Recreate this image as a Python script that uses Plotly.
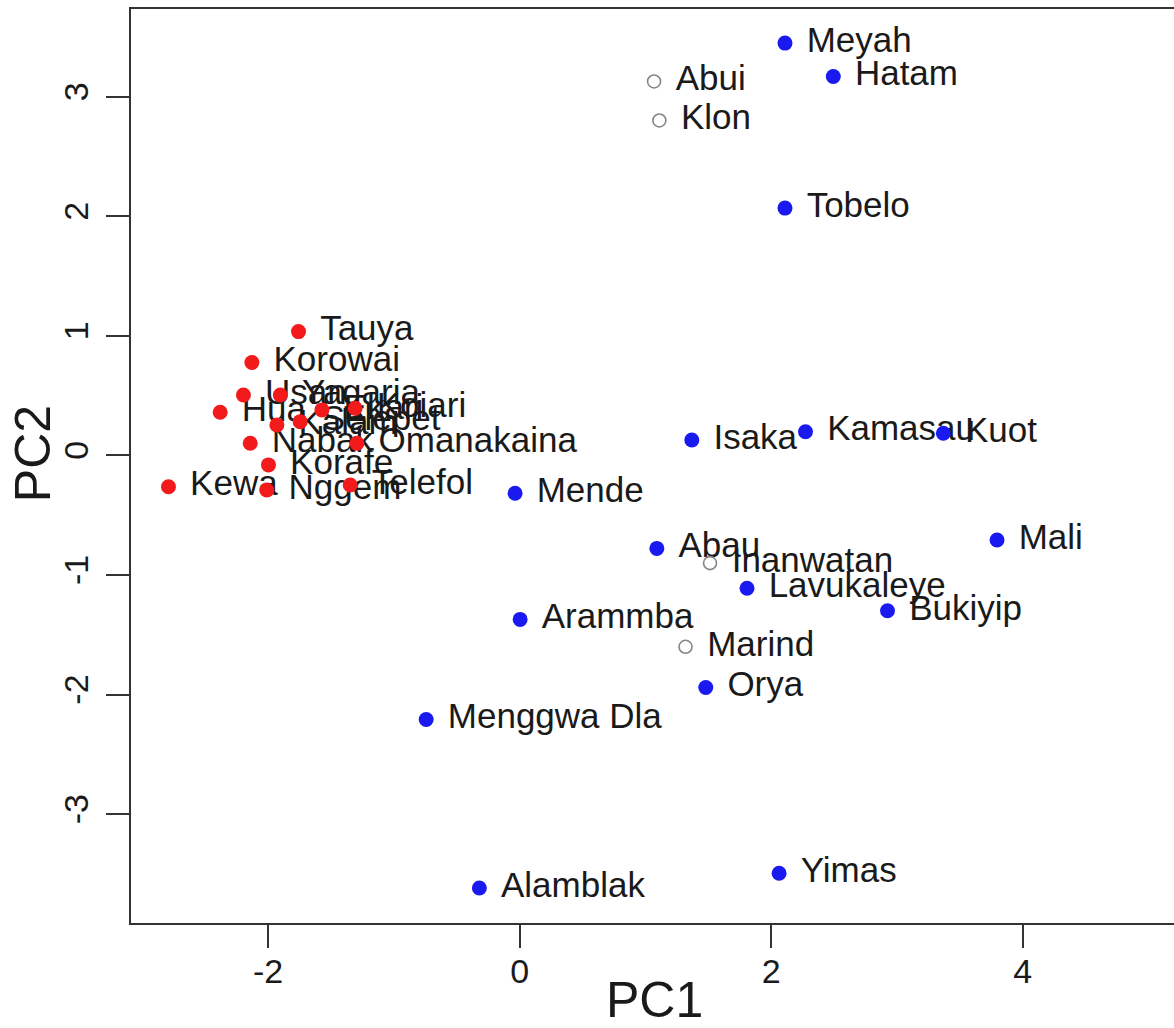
import plotly.graph_objects as go

# Blue (filled) languages
blue_names = ["Meyah", "Hatam", "Tobelo", "Isaka", "Kamasau", "Kuot", "Mende", "Abau",
              "Mali", "Lavukaleye", "Bukiyip", "Arammba", "Orya", "Menggwa Dla", "Alamblak", "Yimas"]
blue_x = [2.110, 2.494, 2.110, 1.369, 2.273, 3.369, -0.036, 1.091,
          3.796, 1.808, 2.925, 0.004, 1.480, -0.743, -0.320, 2.063]
blue_y = [3.449, 3.170, 2.069, 0.130, 0.199, 0.186, -0.316, -0.777,
          -0.707, -1.111, -1.299, -1.371, -1.940, -2.208, -3.617, -3.494]

# Red (filled) languages
red_names = ["Tauya", "Korowai", "Usan", "Yagaria", "Hua", "Kalam", "Selepet", "Ekari", "Koiari",
             "Nabak", "Omanakaina", "Korafe", "Kewa", "Nggem", "Telefol"]
red_x = [-1.758, -2.129, -2.196, -1.903, -2.381, -1.930, -1.745, -1.572, -1.308,
         -2.142, -1.294, -1.997, -2.792, -2.010, -1.347]
red_y = [1.036, 0.777, 0.506, 0.506, 0.362, 0.255, 0.283, 0.381, 0.395,
         0.102, 0.102, -0.079, -0.261, -0.289, -0.247]

# Open (grey) languages
open_names = ["Abui", "Klon", "Inanwatan", "Marind"]
open_x = [1.069, 1.111, 1.514, 1.319]
open_y = [3.128, 2.802, -0.900, -1.600]

# Axis ticks
x_ticks = [-2, 0, 2, 4]
x_tick_labels = ["-2", "0", "2", "4"]
y_ticks = [-3, -2, -1, 0, 1, 2, 3]
y_tick_labels = ["-3", "-2", "-1", "0", "1", "2", "3"]

FONT = "Liberation Sans, Arial, Helvetica, sans-serif"
TXT = "#1a1a1a"

fig = go.Figure()

all_names = blue_names + red_names + open_names
all_x = blue_x + red_x + open_x
all_y = blue_y + red_y + open_y

# labels first (so points are drawn on top); invisible markers give text offset
fig.add_trace(go.Scatter(
    x=all_x, y=all_y, mode="markers+text", text=all_names,
    textposition="middle right",
    textfont=dict(family=FONT, size=35, color=TXT),
    marker=dict(size=33, opacity=0),
    hoverinfo="skip", showlegend=False,
))

fig.add_trace(go.Scatter(
    x=red_x, y=red_y, mode="markers",
    marker=dict(size=15, color="#f21a1a", line=dict(width=0)),
    showlegend=False, text=red_names, hoverinfo="text",
))
fig.add_trace(go.Scatter(
    x=blue_x, y=blue_y, mode="markers",
    marker=dict(size=15, color="#1a1af0", line=dict(width=0)),
    showlegend=False, text=blue_names, hoverinfo="text",
))
fig.add_trace(go.Scatter(
    x=open_x, y=open_y, mode="markers",
    marker=dict(size=13, color="rgba(255,255,255,0)", line=dict(width=1.6, color="#858585")),
    showlegend=False, text=open_names, hoverinfo="text",
))

fig.update_layout(
    width=1174, height=1028,
    margin=dict(l=131, r=0, t=9, b=105),
    paper_bgcolor="white", plot_bgcolor="white",
    xaxis=dict(
        range=[-3.09, 5.203], showgrid=False, zeroline=False,
        showline=True, linecolor="#333333", linewidth=2, mirror=True,
        ticks="outside", ticklen=23, tickwidth=1.5, tickcolor="#333333",
        tickvals=x_ticks, ticktext=x_tick_labels,
        tickfont=dict(family=FONT, size=34, color=TXT),
        ticklabelstandoff=-6,
    ),
    yaxis=dict(
        range=[-3.910, 3.734], showgrid=False, zeroline=False,
        showline=True, linecolor="#333333", linewidth=2, mirror=False,
        ticks="outside", ticklen=23, tickwidth=1.5, tickcolor="#333333",
        tickvals=y_ticks, ticktext=y_tick_labels, tickangle=-90,
        tickfont=dict(family=FONT, size=34, color=TXT),
        ticklabelstandoff=4,
    ),
    annotations=[
        dict(text="PC1", xref="paper", yref="paper", x=0.502, y=-0.084,
             xanchor="center", yanchor="middle", showarrow=False,
             font=dict(family=FONT, size=50, color=TXT)),
        dict(text="PC2", xref="paper", yref="paper", x=-0.094, y=0.514,
             xanchor="center", yanchor="middle", showarrow=False, textangle=-90,
             font=dict(family=FONT, size=50, color=TXT)),
    ],
)

fig.write_html("out.html")
